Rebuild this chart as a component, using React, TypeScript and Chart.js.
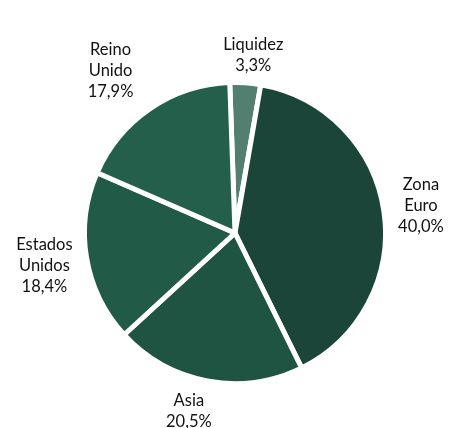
import React, { useEffect, useRef } from "react";
import { Chart, registerables } from "chart.js";

Chart.register(...registerables);

const categories: string[][] = [["Liquidez"], ["Zona", "Euro"], ["Asia"], ["Estados", "Unidos"], ["Reino", "Unido"]];
const values: number[] = [3.3, 40.0, 20.5, 18.4, 17.9];
const colors: string[] = ["#527f70", "#1a4538", "#1f5342", "#215a47", "#245f4c"];

// label layout tweaks (dx, dy) to mimic best-fit placement
const labelNudges: number[][] = [[5, 6], [2, 0], [-12, -3], [-2, 1], [-20, -1]];

const outLabels = {
  id: "outLabels",
  afterDraw(chart: any) {
    const ctx = chart.ctx as CanvasRenderingContext2D;
    const meta = chart.getDatasetMeta(0);
    const o = chart.options.plugins.outLabels;
    ctx.save();
    ctx.font = `${o.size}px ${o.family}`;
    ctx.fillStyle = o.color;
    ctx.textAlign = "center";
    ctx.textBaseline = "middle";
    meta.data.forEach((arc: any, i: number) => {
      const p = arc.getProps(["x", "y", "startAngle", "endAngle", "outerRadius"], true);
      const mid = (p.startAngle + p.endAngle) / 2;
      const v = chart.data.datasets[0].data[i] as number;
      const lines = [...(chart.data.labels[i] as string[]), v.toFixed(1).replace(".", ",") + "%"];
      const w = Math.max(...lines.map((t) => ctx.measureText(t).width));
      const h = lines.length * o.lineHeight;
      const r = p.outerRadius + o.gap;
      const px = p.x + Math.cos(mid) * r;
      const py = p.y + Math.sin(mid) * r;
      const cx = px + (Math.cos(mid) * w) / 2 + labelNudges[i][0];
      const cy = py + (Math.sin(mid) * h) / 2 + labelNudges[i][1];
      lines.forEach((t, j) => ctx.fillText(t, cx, cy - h / 2 + o.lineHeight * (j + 0.5)));
    });
    ctx.restore();
  },
};

export default function App() {
  const ref = useRef<HTMLCanvasElement>(null);
  useEffect(() => {
    document.body.style.margin = "0";
    const chart = new Chart(ref.current!, {
      type: "pie",
      data: {
        labels: categories,
        datasets: [
          {
            data: values,
            backgroundColor: colors,
            borderColor: "#ffffff",
            borderWidth: 5,
            borderAlign: "center",
          },
        ],
      },
      options: {
        animation: false,
        responsive: true,
        maintainAspectRatio: false,
        rotation: -2,
        layout: { padding: { left: 82, right: 70, top: 80, bottom: 42 } },
        plugins: {
          legend: { display: false },
          tooltip: { enabled: false },
          outLabels: { size: 16.5, family: "Lato", color: "#111111", lineHeight: 21, gap: 12.5 },
        } as any,
      },
      plugins: [outLabels],
    });
    return () => chart.destroy();
  }, []);
  return (
    <div style={{ width: 458, height: 428, position: "relative" }}>
      <canvas ref={ref} />
    </div>
  );
}
